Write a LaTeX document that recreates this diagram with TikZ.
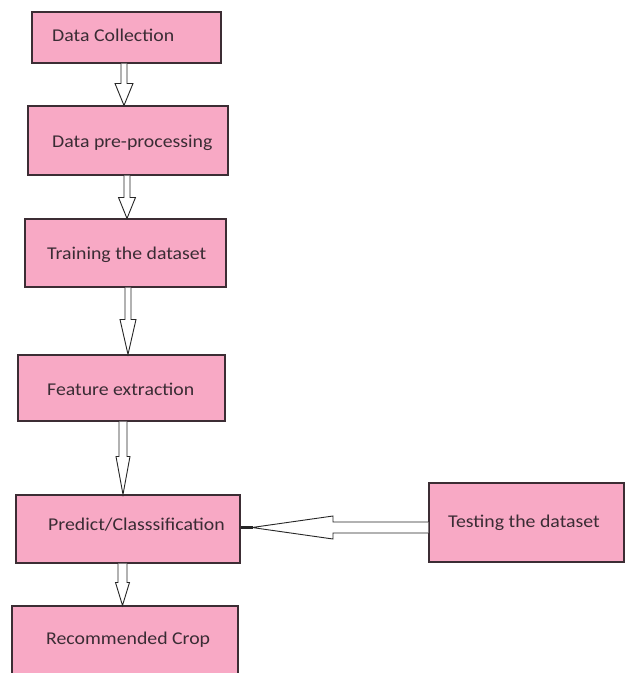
\documentclass[tikz,border=0pt]{standalone}
\usepackage{fontspec}
\setmainfont{Carlito}[FakeStretch=1.1]
\usetikzlibrary{calc}
\definecolor{boxpink}{RGB}{248,169,197}
\definecolor{boxline}{RGB}{60,45,52}
\definecolor{txt}{RGB}{58,44,52}
\tikzset{
  box/.style={draw=boxline, fill=boxpink, line width=1.1pt, inner sep=0pt},
  lbl/.style={anchor=west, inner sep=0pt, text=txt, font=\fontsize{18}{21}\selectfont},
  blk/.style={draw=black!85, fill=white, line width=0.9pt, line join=miter}
}
% #1 x centre, #2 from node, #3 to node, #4 head length, #5 shaft half width, #6 head half width
\newcommand\blockdn[6]{%
  \path let \p1=(#2.south), \p2=(#3.north) in
    [blk] ({#1pt-#5pt},\y1) -- ({#1pt-#5pt},{\y2+#4pt}) -- ({#1pt-#6pt},{\y2+#4pt})
    -- (#1pt,\y2) -- ({#1pt+#6pt},{\y2+#4pt}) -- ({#1pt+#5pt},{\y2+#4pt}) -- ({#1pt+#5pt},\y1);}
\begin{document}
\begin{tikzpicture}[x=1pt,y=-1pt]
\useasboundingbox (0,0) rectangle (626,673);
\clip (0,0) rectangle (626,673);
\fill[white] (0,0) rectangle (626,673);
% boxes
\node[box, minimum width=189pt, minimum height=51pt] (b1) at (126.5,37.5) {};
\node[box, minimum width=200pt, minimum height=69pt] (b2) at (128,140.5) {};
\node[box, minimum width=201pt, minimum height=68pt] (b3) at (125.5,253) {};
\node[box, minimum width=207pt, minimum height=66pt] (b4) at (121.5,388) {};
\node[box, minimum width=224pt, minimum height=68pt] (b5) at (128,529) {};
\node[box, minimum width=226pt, minimum height=84pt] (b6) at (125,648) {};
\node[box, minimum width=195pt, minimum height=79pt] (b7) at (526.5,522.5) {};
% labels
\node[lbl] (t1) at (52,35) {Data Collection};
\node[lbl] (t2) at (52,143) {Data pre-processing};
\node[lbl] (t3) at (47,255) {Training the dataset};
\node[lbl] (t4) at (47,389) {Feature extraction};
\node[lbl] (t5) at (48,525) {Predict/Classsification};
\node[lbl] (t6) at (46,640) {Recommended Crop};
\node[lbl] (t7) at (448,523) {Testing the dataset};
% vertical block arrows
\blockdn{124}{b1}{b2}{22}{3}{9}
\blockdn{127}{b2}{b3}{21}{3}{8.5}
\blockdn{128}{b3}{b4}{35}{3}{8}
\blockdn{123}{b4}{b5}{38}{4}{7}
\blockdn{122.5}{b5}{b6}{23}{4.5}{7}
% horizontal block arrow from testing to predict
\path let \p1=(b7.west), \p2=(b5.east) in
  [blk] (\x1,{-522pt}) -- (333,522) -- (333,516) -- (252,527.5) -- (333,539) -- (333,533) -- (\x1,{-533pt});
\draw[line width=2.2pt, black!85] (b5.east |- 0,527.5) -- (253,527.5);
\end{tikzpicture}
\end{document}
